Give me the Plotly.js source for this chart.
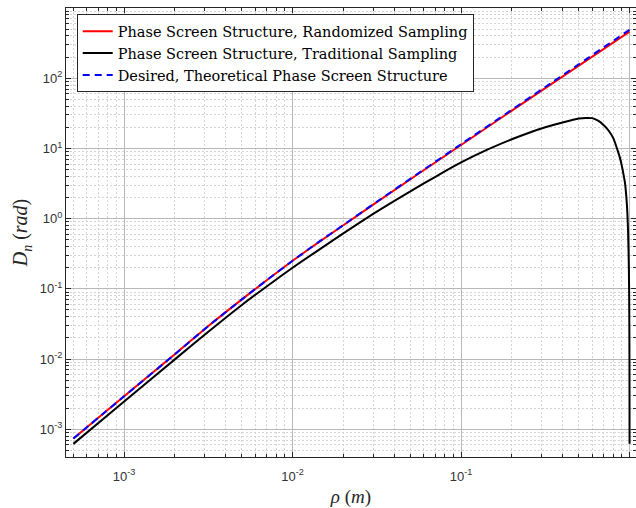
<!DOCTYPE html>
<html><head><meta charset="utf-8">
<script src="https://cdn.plot.ly/plotly-3.0.1.min.js"></script>
<style>html,body{margin:0;padding:0;background:#fff}</style>
</head><body><div id="chart" style="width:636px;height:508px"></div>
<script>
// separation rho (m)
const rhoSmooth = [5e-4, 1e-3, 2e-3, 3.16e-3, 5e-3, 7.08e-3, 1e-2, 1.41e-2, 2e-2, 3.16e-2, 0.1, 0.316, 0.9995];
const dRandomized = [7.4e-4, 2.95e-3, 1.17e-2, 2.95e-2, 7.08e-2, 0.135, 0.251, 0.452, 0.804, 1.72, 11.2, 72.4, 462];
const dTheory = [7.4e-4, 2.95e-3, 1.17e-2, 2.95e-2, 7.08e-2, 0.135, 0.251, 0.455, 0.81, 1.74, 11.5, 75, 490];
const rhoTrad = [5e-4, 1e-3, 2e-3, 3.16e-3, 5e-3, 7.08e-3, 1e-2, 1.41e-2, 2e-2, 3.16e-2, 5e-2, 7.08e-2, 0.1, 0.141, 0.2, 0.251, 0.316, 0.4, 0.5, 0.55, 0.6, 0.65, 0.7, 0.75, 0.8, 0.85, 0.88, 0.9, 0.92, 0.94, 0.96, 0.97, 0.98, 0.99, 0.995, 0.998, 0.9995];
const dTraditional = [6.2e-4, 2.48e-3, 9.9e-3, 2.45e-2, 5.9e-2, 0.11, 0.2, 0.351, 0.617, 1.26, 2.45, 3.98, 6.31, 9.44, 13.5, 16.6, 20.0, 23.4, 26.6, 27.2, 27.0, 24.8, 21.6, 18.0, 14.0, 9.3, 7.1, 5.6, 4.27, 3.16, 1.82, 1.2, 0.63, 0.2, 0.059, 1.0e-2, 6.2e-4];

const seriesNames = ['Phase Screen Structure, Randomized Sampling', 'Phase Screen Structure, Traditional Sampling', 'Desired, Theoretical Phase Screen Structure'];
const xTickVals = [1e-3, 1e-2, 1e-1, 1];
const xTickText = ['10<sup>-3</sup>', '10<sup>-2</sup>', '10<sup>-1</sup>', '10<sup>0</sup>'];
const yTickVals = [1e-3, 1e-2, 1e-1, 1, 10, 100, 1000];
const yTickText = ['10<sup>-3</sup>', '10<sup>-2</sup>', '10<sup>-1</sup>', '10<sup>0</sup>', '10<sup>1</sup>', '10<sup>2</sup>', '10<sup>3</sup>'];

function minorVals(lo, hi) {
  const out = [];
  for (let e = lo; e <= hi; e++) for (let m = 2; m <= 9; m++) out.push(m * Math.pow(10, e));
  return out;
}

const traces = [
  {x: rhoSmooth, y: dRandomized, name: seriesNames[0], mode: 'lines', line: {color: '#ff0000', width: 2, shape: 'spline', smoothing: 0.6}},
  {x: rhoTrad, y: dTraditional, name: seriesNames[1], mode: 'lines', line: {color: '#000000', width: 2, shape: 'spline', smoothing: 0.6}},
  {x: rhoSmooth, y: dTheory, name: seriesNames[2], mode: 'lines', line: {color: '#0000ff', width: 2, dash: '7px,5px', shape: 'spline', smoothing: 0.6}}
];

const axisCommon = {
  type: 'log', showline: true, linecolor: '#262626', linewidth: 1, mirror: 'allticks',
  ticks: 'inside', ticklen: 5, tickcolor: '#262626', tickmode: 'array',
  showgrid: true, gridcolor: '#b8b8b8', gridwidth: 1, zeroline: false,
  tickfont: {family: 'Liberation Sans, Arial, sans-serif', size: 13, color: '#333333'},
  automargin: false
};

const layout = {
  width: 636, height: 508,
  margin: {l: 66, r: 0, t: 8, b: 51},
  paper_bgcolor: '#ffffff', plot_bgcolor: '#ffffff',
  showlegend: true,
  xaxis: Object.assign({}, axisCommon, {
    range: [Math.log10(4.52e-4), 0.038],
    tickvals: xTickVals, ticktext: xTickText, ticklabelstandoff: 7,
    minor: {tickmode: 'array', tickvals: minorVals(-4, -1), ticks: 'inside', ticklen: 3, tickcolor: '#262626', showgrid: true, gridcolor: '#d4d4d4', griddash: '2px,2px', gridwidth: 1},
    title: {text: '<i>ρ</i> (<i>m</i>)', font: {family: 'Liberation Serif, serif', size: 19, color: '#262626'}, standoff: 10}
  }),
  yaxis: Object.assign({}, axisCommon, {
    range: [Math.log10(4.03e-4), 3],
    tickvals: yTickVals, ticktext: yTickText,
    minor: {tickmode: 'array', tickvals: minorVals(-4, 2), ticks: 'inside', ticklen: 3, tickcolor: '#262626', showgrid: true, gridcolor: '#d4d4d4', griddash: '2px,2px', gridwidth: 1},
    title: {text: '<i>D</i><sub><i>n</i></sub> (<i>rad</i>)', font: {family: 'Liberation Serif, serif', size: 20, color: '#262626'}, standoff: 6}
  }),
  legend: {
    x: 0.0188, y: 0.986, xanchor: 'left', yanchor: 'top',
    bgcolor: '#ffffff', bordercolor: '#262626', borderwidth: 1,
    font: {family: 'DejaVu Serif, serif', size: 14.5, color: '#000000'},
    itemwidth: 30
  }
};

Plotly.newPlot('chart', traces, layout, {displayModeBar: false, staticPlot: true});
</script>
</body></html>
